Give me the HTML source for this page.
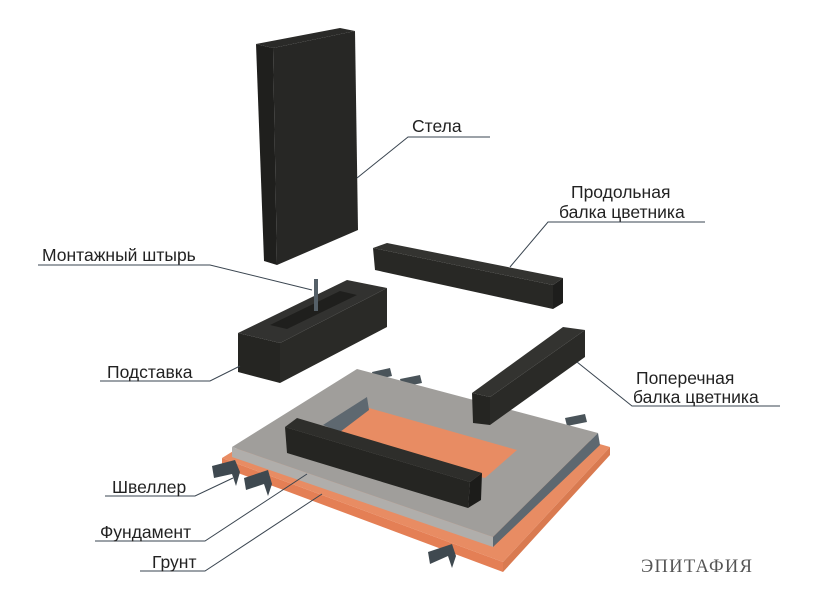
<!DOCTYPE html>
<html><head><meta charset="utf-8"><style>
body{margin:0;background:#fff}
svg text{font-family:"Liberation Sans",sans-serif;font-size:17.5px;fill:#222}
</style></head><body>
<svg width="823" height="600" viewBox="0 0 823 600" xmlns="http://www.w3.org/2000/svg">
<!-- ground -->
<polygon points="222,458 357,374 610,447 503,562" fill="#e88c63"/>
<polygon points="222,458 503,562 503,572 222,467" fill="#e47f55"/>
<polygon points="503,562 610,447 610,455 503,572" fill="#d97a50"/>
<!-- top channels -->
<polygon points="372,372 390,368 392,376 374,380" fill="#4a545a"/>
<polygon points="400,379 420,375 422,383 402,387" fill="#4a545a"/>
<polygon points="565,418 585,414 587,422 567,426" fill="#4a545a"/>
<!-- foundation -->
<polygon points="232,447 357,369 598,433 493,537" fill="#a09e9b"/>
<polygon points="232,447 493,537 493,547 232,457" fill="#b0aeab"/>
<polygon points="493,537 598,433 600,445 493,547" fill="#5e6870"/>
<!-- cutout -->
<polygon points="330,440 369,408 517,450 485,478" fill="#e88c63"/>
<polygon points="323,425 367,397 369,410 340,432" fill="#5e6870"/>
<!-- front beam -->
<polygon points="285,427 297,418 482,473 470,482" fill="#2e2e2b"/>
<polygon points="285,427 470,482 468,508 287,453" fill="#252522"/>
<polygon points="470,482 482,473 481,500 468,508" fill="#1c1c1a"/>
<!-- channels -->
<polygon points="212,466 235,460 240,472 236,486 232,474 214,478" fill="#3f4950"/>
<polygon points="244,478 268,470 272,484 268,496 264,484 246,490" fill="#3f4950"/>
<polygon points="428,552 452,544 456,556 452,568 448,556 430,564" fill="#3f4950"/>
<!-- stele -->
<polygon points="256,44 340,28 355,31 273,48" fill="#2a2a28"/>
<polygon points="256,44 273,48 277,265 264,261" fill="#1f1f1d"/>
<polygon points="273,48 355,31 358,230 277,265" fill="#272725"/>
<!-- longitudinal beam -->
<polygon points="373,248 387,243 563,278 553,285" fill="#333330"/>
<polygon points="373,248 553,285 553,309 375,270" fill="#282825"/>
<polygon points="553,285 563,278 563,303 553,309" fill="#1e1e1c"/>
<!-- cross beam -->
<polygon points="472,393 563,327 585,330 490,397" fill="#333330"/>
<polygon points="472,393 490,397 490,425 473,423" fill="#252522"/>
<polygon points="490,397 585,330 585,357 490,425" fill="#2a2a27"/>
<!-- podstavka -->
<polygon points="238,333 347,280 387,288 280,343" fill="#323230"/>
<polygon points="270,325 340,291 357,295 287,329" fill="#1f1f1d"/>
<polygon points="238,333 280,343 280,383 238,372" fill="#252522"/>
<polygon points="280,343 387,288 387,327 280,383" fill="#2a2a27"/>
<rect x="314" y="279" width="4" height="32" fill="#556068"/>
<!-- leaders -->
<g stroke="#3a4550" stroke-width="1" fill="none">
<polyline points="490,137 408,137 357,178"/>
<polyline points="705,222 548,222 510,267"/>
<polyline points="38,265 210,265 312,290"/>
<polyline points="100,381 210,381 240,366"/>
<polyline points="780,406 632,406 577,362"/>
<polyline points="105,496 195,496 233,478"/>
<polyline points="95,541 205,541 307,474"/>
<polyline points="140,571 205,571 322,494"/>
</g>
<text x="412" y="132">Стела</text>
<text x="571" y="198">Продольная</text>
<text x="559" y="218">балка цветника</text>
<text x="42" y="261">Монтажный штырь</text>
<text x="107" y="378">Подставка</text>
<text x="636" y="384">Поперечная</text>
<text x="633" y="403">балка цветника</text>
<text x="112" y="493">Швеллер</text>
<text x="100" y="538">Фундамент</text>
<text x="152" y="568">Грунт</text>
<text x="641" y="572" style="font-family:'Liberation Serif',serif;font-size:18.5px;fill:#555;letter-spacing:1.3px">ЭПИТАФИЯ</text>
</svg>
</body></html>
